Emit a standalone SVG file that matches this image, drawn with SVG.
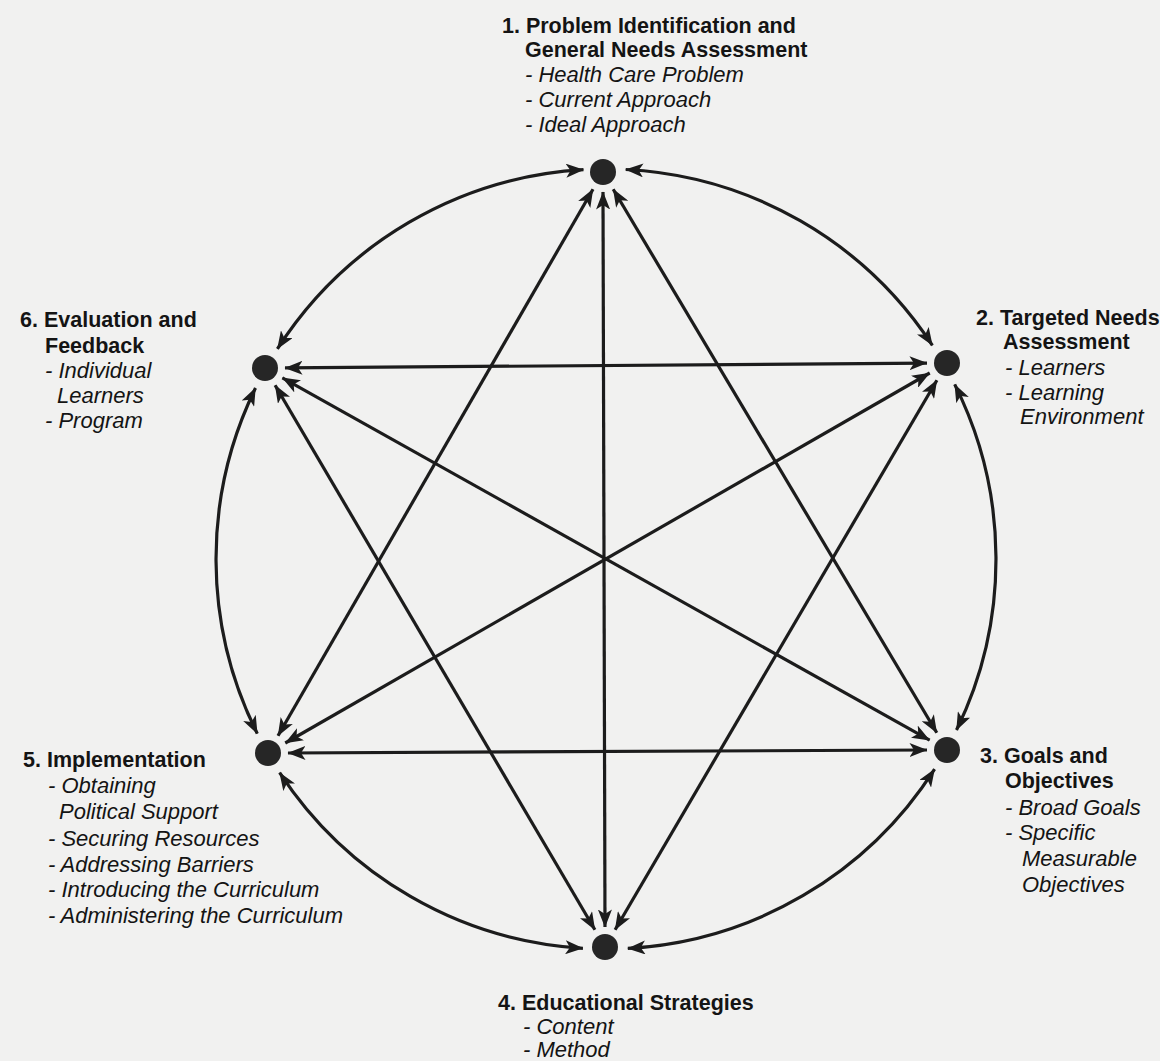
<svg xmlns="http://www.w3.org/2000/svg" width="1160" height="1061" viewBox="0 0 1160 1061">
<style>
.bg{fill:#f1f1f0}
.dot{fill:#262626}
.c{fill:none;stroke:#1c1c1c;stroke-width:3.2;marker-start:url(#ah);marker-end:url(#ah)}
text{font-family:"Liberation Sans",Arial,sans-serif;font-size:22px;fill:#141414}
.b{font-weight:bold;font-size:21.5px}
.i{font-style:italic}
</style>
<defs>
<marker id="ah" viewBox="0 0 18 14" refX="17.5" refY="7" markerWidth="18" markerHeight="14" markerUnits="userSpaceOnUse" orient="auto-start-reverse">
<path d="M0,0 L18,7 L0,14 L4.5,7 z" fill="#1c1c1c"/>
</marker>
</defs>
<rect class="bg" x="0" y="0" width="1160" height="1061"/>
<g id="connectors">
<path class="c" d="M625.7,169.5 A390,390 0 0 1 932.4,345.4"/>
<path class="c" d="M954.7,384.4 A390,390 0 0 1 956.5,730"/>
<path class="c" d="M934.6,769.1 A390,390 0 0 1 627.8,948.4"/>
<path class="c" d="M582.9,948.3 A390,390 0 0 1 279.6,772.6"/>
<path class="c" d="M257.3,733.6 A390,390 0 0 1 255.5,388"/>
<path class="c" d="M277.4,348.9 A390,390 0 0 1 583.5,169.7"/>
<path class="c" d="M613.2,189.2 L936.8,732.8"/>
<path class="c" d="M593,189.3 L278,735.7"/>
<path class="c" d="M603,192 L605,927"/>
<path class="c" d="M936.9,380.3 L615.1,929.7"/>
<path class="c" d="M929.7,373 L285.3,743"/>
<path class="c" d="M927,363.1 L285,367.9"/>
<path class="c" d="M927,750 L288,753"/>
<path class="c" d="M929.6,740.2 L282.4,377.8"/>
<path class="c" d="M594.9,929.8 L275.1,385.2"/>
</g>
<g id="node1">
<circle class="dot" cx="603" cy="172" r="13"/>
<text class="b" x="502" y="33">1. Problem Identification and</text>
<text class="b" x="525" y="57">General Needs Assessment</text>
<text class="i" x="525" y="82">- Health Care Problem</text>
<text class="i" x="525" y="107">- Current Approach</text>
<text class="i" x="525" y="132">- Ideal Approach</text>
</g>
<g id="node2">
<circle class="dot" cx="947" cy="363" r="13"/>
<text class="b" x="976" y="325">2. Targeted Needs</text>
<text class="b" x="1003" y="349">Assessment</text>
<text class="i" x="1005" y="375">- Learners</text>
<text class="i" x="1005" y="400">- Learning</text>
<text class="i" x="1020" y="424">Environment</text>
</g>
<g id="node3">
<circle class="dot" cx="947" cy="750" r="13"/>
<text class="b" x="980" y="763">3. Goals and</text>
<text class="b" x="1005" y="788">Objectives</text>
<text class="i" x="1005" y="815">- Broad Goals</text>
<text class="i" x="1005" y="840">- Specific</text>
<text class="i" x="1022" y="866">Measurable</text>
<text class="i" x="1022" y="892">Objectives</text>
</g>
<g id="node4">
<circle class="dot" cx="605" cy="947" r="13"/>
<text class="b" x="498" y="1010">4. Educational Strategies</text>
<text class="i" x="523" y="1034">- Content</text>
<text class="i" x="523" y="1057">- Method</text>
</g>
<g id="node5">
<circle class="dot" cx="268" cy="753" r="13"/>
<text class="b" x="23" y="767">5. Implementation</text>
<text class="i" x="48" y="793">- Obtaining</text>
<text class="i" x="59" y="819">Political Support</text>
<text class="i" x="48" y="846">- Securing Resources</text>
<text class="i" x="48" y="872">- Addressing Barriers</text>
<text class="i" x="48" y="897">- Introducing the Curriculum</text>
<text class="i" x="48" y="923">- Administering the Curriculum</text>
</g>
<g id="node6">
<circle class="dot" cx="265" cy="368" r="13"/>
<text class="b" x="20" y="327">6. Evaluation and</text>
<text class="b" x="45" y="353">Feedback</text>
<text class="i" x="45" y="378">- Individual</text>
<text class="i" x="57" y="403">Learners</text>
<text class="i" x="45" y="428">- Program</text>
</g>
</svg>
